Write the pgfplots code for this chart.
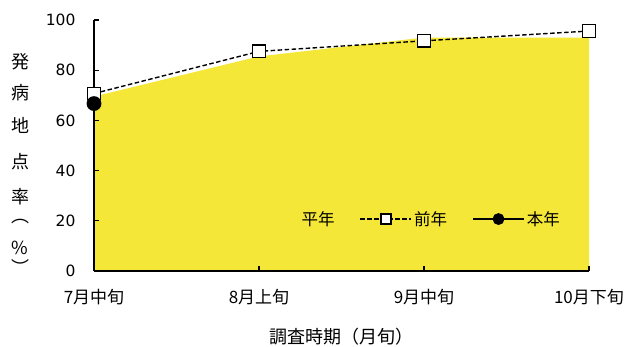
\documentclass[border=0pt]{standalone}
\usepackage{pgfplots}
\pgfplotsset{compat=1.18}
\usepackage{fontspec}
\setmainfont{DejaVu Sans}
\newfontfamily\jp{Noto Sans CJK JP}
\definecolor{areaYellow}{RGB}{245,231,56}

\pgfplotsset{
  frame/.style={
    at={(94pt,76pt)}, anchor=south west,
    scale only axis, width=495pt, height=251pt,
    xmin=0, xmax=3, ymin=0, ymax=100, clip=false},
  linelegend/.style={legend image code/.code={\draw[mark repeat=2, mark phase=2, mark size=5pt]
    plot coordinates {(0pt,0pt) (25.5pt,0pt) (51pt,0pt)};}},
}

\begin{document}
\begin{tikzpicture}[x=1pt,y=1pt]
\path[use as bounding box] (0,0) rectangle (625,347);
% axes and the 平年 area
\begin{axis}[
  frame, axis on top,
  axis lines=left, axis line style={-, line width=1.8pt, black},
  xtick={0,1,2,3}, xticklabels={7月中旬,8月上旬,9月中旬,10月下旬},
  ytick={0,20,...,100},
  tick align=inside, major tick length=5pt,
  tick style={line width=1.3pt, black},
  x tick label style={font=\jp\fontsize{17}{18}\selectfont, yshift=-15pt},
  y tick label style={font=\fontsize{15.5}{18}\selectfont, xshift=-15pt},
  /pgf/number format/assume math mode=true,
]
\addplot[fill=areaYellow, draw=none]
  coordinates {(0,69.5) (1,85.5) (2,93) (3,93)} \closedcycle;
\end{axis}
% 前年 and 本年 lines, drawn above the axis lines
\begin{axis}[
  frame, hide axis,
  legend columns=-1,
  legend style={at={(0.376,0.207)}, anchor=west, draw=none, fill=none,
    font=\jp\fontsize{16.5}{18}\selectfont,
    /tikz/every even column/.append style={column sep=23pt}},
]
\addlegendimage{legend image code/.code={\fill[areaYellow] (0pt,-5pt) rectangle (16pt,5pt);}}
\addlegendentry{平年}
\addplot[black, line width=1.4pt,
  dash pattern=on 4.5pt off 2.5pt,
  mark=square*, mark size=6.3pt,
  mark options={solid, fill=white, line width=1.3pt}, linelegend]
  coordinates {(0,70.7) (1,87.5) (2,91.7) (3,95.6)};
\addlegendentry{前年}
\addplot[black, line width=1.8pt,
  mark=*, mark size=6.5pt,
  mark options={solid, fill=black}, linelegend]
  coordinates {(0,66.7)};
\addlegendentry{本年}
\end{axis}
% axis titles
\node[font=\jp\fontsize{18}{20}\selectfont] at (341.5,10) {調査時期（月旬）};
\foreach \c/\y in {発/285, 病/254, 地/222, 点/185, 率/150, ︵/125, \%/99}
  \node[font=\jp\fontsize{18}{20}\selectfont, inner sep=0pt] at (20,\y) {\c};
\node[font=\jp\fontsize{18}{20}\selectfont, inner sep=0pt, anchor=north] at (20,88) {︶};
\end{tikzpicture}
\end{document}
